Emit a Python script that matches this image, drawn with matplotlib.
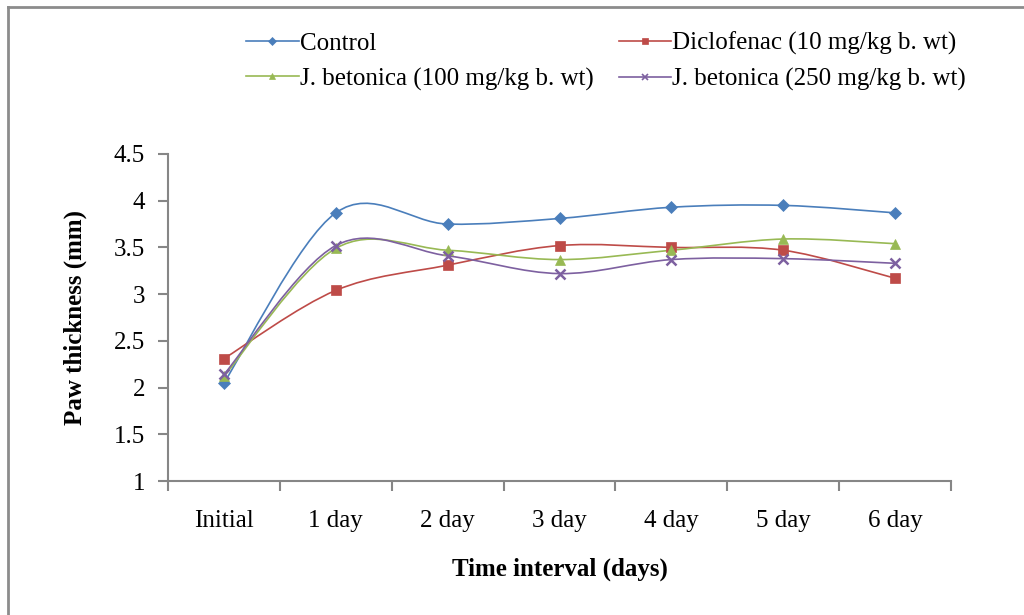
import numpy as np
import matplotlib
matplotlib.use("Agg")
import matplotlib.pyplot as plt
from matplotlib.path import Path
from matplotlib.patches import PathPatch
from matplotlib.lines import Line2D

plt.rcParams['font.family'] = ['Liberation Serif', 'DejaVu Serif']

days = ["Initial", "1 day", "2 day", "3 day", "4 day", "5 day", "6 day"]
control = [2.05, 3.87, 3.75, 3.81, 3.93, 3.95, 3.87]
diclofenac = [2.31, 3.04, 3.31, 3.52, 3.50, 3.47, 3.17]
jb100 = [2.12, 3.49, 3.47, 3.37, 3.47, 3.59, 3.54]
jb250 = [2.14, 3.52, 3.41, 3.22, 3.37, 3.38, 3.33]

labels = ["Control", "Diclofenac (10 mg/kg b. wt)",
          "J. betonica (100 mg/kg b. wt)", "J. betonica (250 mg/kg b. wt)"]
series = [control, diclofenac, jb100, jb250]
colors = ["#4A7EBB", "#BE4B48", "#98B954", "#7D60A0"]
markers = ["D", "s", "^", "x"]
msizes = [6.5, 7.5, 7.5, 7]


def smooth_path(x, y):
    # Excel-like smoothed line: cubic bezier, catmull-rom control points
    pts = np.column_stack([x, y]).astype(float)
    ext = np.vstack([pts[0], pts, pts[-1]])
    verts = [pts[0]]
    codes = [Path.MOVETO]
    for i in range(1, len(ext) - 2):
        p0, p1, p2, p3 = ext[i - 1], ext[i], ext[i + 1], ext[i + 2]
        c1 = p1 + (p2 - p0) / 6.0
        c2 = p2 - (p3 - p1) / 6.0
        verts += [c1, c2, p2]
        codes += [Path.CURVE4] * 3
    return Path(verts, codes)


fig = plt.figure(figsize=(10.24, 6.15), dpi=100)
ax = fig.add_axes([168 / 1024, 1 - 481 / 615, (951 - 168) / 1024, (481 - 154) / 615])

x = np.arange(len(days))
handles = []
for vals, lab, c, m, ms in zip(series, labels, colors, markers, msizes):
    ax.add_patch(PathPatch(smooth_path(x, vals), fill=False, edgecolor=c, lw=1.2, zorder=2))
    mew = 1.8 if m == "x" else 0.5
    ax.plot(x, vals, linestyle="none", marker=m, color=c, markersize=ms,
            markeredgecolor=c, markeredgewidth=mew, zorder=3)
    handles.append(Line2D([], [], color=c, lw=1.2, marker=m,
                          markersize=4.5 if m != "x" else 5, markeredgewidth=1.2 if m == "x" else 0.5))

ax.set_xlim(-0.5, len(days) - 0.5)
ax.set_ylim(1, 4.5)
ax.set_yticks(np.arange(1, 4.51, 0.5))
ax.set_yticklabels(["1", "1.5", "2", "2.5", "3", "3.5", "4", "4.5"])
ax.set_xticks(x)
ax.set_xticklabels(days)
ax.set_xticks(np.arange(-0.5, len(days), 1), minor=True)
ax.tick_params(axis="x", which="major", length=0, pad=21, labelsize=18)
ax.tick_params(axis="x", which="minor", length=7, width=1.5, color="#868686", direction="out")
ax.tick_params(axis="y", length=7, width=1.5, color="#868686", direction="out", pad=9.5, labelsize=18)

for s in ["top", "right"]:
    ax.spines[s].set_visible(False)
for s in ["left", "bottom"]:
    ax.spines[s].set_color("#868686")
    ax.spines[s].set_linewidth(1.5)

ax.set_xlabel("Time interval (days)", fontsize=18, fontweight="bold", labelpad=18)
ax.set_ylabel("Paw thickness (mm)", fontsize=18, fontweight="bold", labelpad=19)

order = [0, 2, 1, 3]
fig.legend([handles[i] for i in order], [labels[i] for i in order], ncol=2,
           loc="upper left", bbox_to_anchor=(246 / 1024, 1 - 32 / 615),
           frameon=False, fontsize=18, handlelength=2.1, handletextpad=0.05,
           columnspacing=1.0, labelspacing=0.5, borderaxespad=0, borderpad=0)

# outer chart frame
fig.add_artist(Line2D([8 / 1024, 8 / 1024], [0, 1 - 7 / 615], color="#8c8c8c", lw=2))
fig.add_artist(Line2D([8 / 1024, 1], [1 - 7 / 615, 1 - 7 / 615], color="#8c8c8c", lw=2))

fig.savefig("out.png", dpi=100)
